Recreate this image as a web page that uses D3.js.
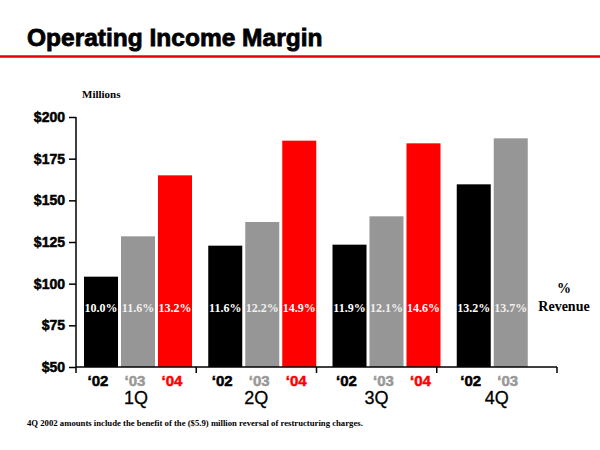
<!DOCTYPE html>
<html>
<head>
<meta charset="utf-8">
<script src="https://cdn.jsdelivr.net/npm/d3@7"></script>
<style>
  body { margin: 0; background: #fff; }
  svg { display: block; }
</style>
</head>
<body>
<div id="chart"></div>
<script>
const quarters = ['1Q', '2Q', '3Q', '4Q'];
const years = ['02', '03', '04'];
// operating income in millions
const income02 = [104.2, 122.8, 123.4, 159.6];
const income03 = [128.4, 137.0, 140.4, 187.2];
const income04 = [165.0, 185.8, 184.2, null];
// % revenue labels
const margin02 = ['10.0%', '11.6%', '11.9%', '13.2%'];
const margin03 = ['11.6%', '12.2%', '12.1%', '13.7%'];
const margin04 = ['13.2%', '14.9%', '14.6%', null];
const yTicks = [50, 75, 100, 125, 150, 175, 200];

const colors = { '02': '#000000', '03': '#969696', '04': '#ff0000' };
const labelColors = { '02': '#000000', '03': '#999999', '04': '#ff0000' };

const rows = [];
quarters.forEach((q, i) => {
    [['02', income02, margin02], ['03', income03, margin03], ['04', income04, margin04]].forEach(([yr, vals, pct]) => {
        if (vals[i] != null) rows.push({ quarter: q, year: yr, value: vals[i], pct: pct[i] });
    });
});

const sans = 'Liberation Sans, Arial, sans-serif';
const serif = 'Liberation Serif, Times New Roman, serif';

const width = 600, height = 450;
const svg = d3.select('#chart').append('svg')
    .attr('width', width)
    .attr('height', height);

// title + red rule
svg.append('text')
    .attr('x', 27)
    .attr('y', 46)
    .attr('font-family', sans)
    .attr('font-weight', 'bold')
    .attr('font-size', '24.5px')
    .attr('stroke', '#000')
    .attr('stroke-width', 0.8)
    .text('Operating Income Margin');

svg.append('line')
    .attr('x1', 0).attr('x2', width)
    .attr('y1', 56.5).attr('y2', 56.5)
    .attr('stroke', '#e8000b')
    .attr('stroke-width', 2.5);

const y = d3.scaleLinear().domain([50, 200]).range([367, 117]);
const xAxisScale = d3.scaleBand().domain(quarters).range([76, 557]);
const xBar = d3.scaleBand().domain(quarters).range([84, 581]);
const x1 = d3.scaleBand().domain(years).range([0, 108]).paddingInner(0.081);

// y axis
const yAxis = svg.append('g')
    .attr('transform', 'translate(76,0)')
    .call(d3.axisLeft(y).tickValues(yTicks).tickSize(7).tickPadding(4).tickFormat(d => '$' + d));
yAxis.select('.domain').attr('stroke', '#000').attr('stroke-width', 1.5).attr('d', 'M0,' + y(200) + 'V' + y(50));
yAxis.selectAll('.tick line').attr('stroke', '#000').attr('stroke-width', 1.5);
yAxis.selectAll('.tick text')
    .attr('font-family', sans)
    .attr('font-weight', 'bold')
    .attr('font-size', '14px')
    .attr('stroke', '#000')
    .attr('stroke-width', 0.5)
    .attr('fill', '#000');

svg.append('text')
    .attr('x', 82)
    .attr('y', 98)
    .attr('font-family', serif)
    .attr('font-weight', 'bold')
    .attr('font-size', '11px')
    .text('Millions');

// bars
const bars = svg.append('g');
bars.selectAll('rect')
    .data(rows)
    .enter().append('rect')
    .attr('x', d => xBar(d.quarter) + x1(d.year))
    .attr('y', d => y(d.value))
    .attr('width', x1.bandwidth())
    .attr('height', d => y(50) - y(d.value))
    .attr('fill', d => colors[d.year]);

bars.selectAll('text.pct')
    .data(rows)
    .enter().append('text')
    .attr('class', 'pct')
    .attr('x', d => xBar(d.quarter) + x1(d.year) + x1.bandwidth() / 2)
    .attr('y', 312)
    .attr('text-anchor', 'middle')
    .attr('font-family', serif)
    .attr('font-weight', 'bold')
    .attr('font-size', '12px')
    .attr('fill', d => d.year === '03' ? '#f0f0f0' : '#ffffff')
    .text(d => d.pct);

// x axis
const xAxis = svg.append('g')
    .attr('transform', 'translate(0,367)');
xAxis.append('line')
    .attr('x1', xAxisScale.range()[0]).attr('x2', xAxisScale.range()[1])
    .attr('stroke', '#000').attr('stroke-width', 1.5);
xAxis.selectAll('line.sep')
    .data(quarters.concat(['end']))
    .enter().append('line')
    .attr('class', 'sep')
    .attr('x1', (d, i) => i < quarters.length ? xAxisScale(d) : xAxisScale.range()[1])
    .attr('x2', (d, i) => i < quarters.length ? xAxisScale(d) : xAxisScale.range()[1])
    .attr('y1', 0).attr('y2', 6)
    .attr('stroke', '#000').attr('stroke-width', 1.5);

svg.append('g').selectAll('text')
    .data(rows)
    .enter().append('text')
    .attr('x', d => xBar(d.quarter) + x1(d.year) + x1.bandwidth() / 2 - 3)
    .attr('y', 386)
    .attr('text-anchor', 'middle')
    .attr('font-family', sans)
    .attr('font-weight', 'bold')
    .attr('font-size', '15px')
    .attr('stroke', d => labelColors[d.year])
    .attr('stroke-width', 0.5)
    .attr('fill', d => labelColors[d.year])
    .text(d => '\u2018' + d.year);

svg.append('g').selectAll('text')
    .data(quarters)
    .enter().append('text')
    .attr('x', d => xAxisScale(d) + xAxisScale.bandwidth() / 2)
    .attr('y', 404)
    .attr('text-anchor', 'middle')
    .attr('font-family', sans)
    .attr('font-size', '18px')
    .attr('stroke', '#000')
    .attr('stroke-width', 0.3)
    .attr('fill', '#000')
    .text(d => d);

// % revenue note
const rev = svg.append('text')
    .attr('text-anchor', 'middle')
    .attr('font-family', serif)
    .attr('font-weight', 'bold')
    .attr('font-size', '14px');
rev.append('tspan').attr('x', 564).attr('y', 293).text('%');
rev.append('tspan').attr('x', 564).attr('y', 311).text('Revenue');

svg.append('text')
    .attr('x', 27)
    .attr('y', 426)
    .attr('font-family', serif)
    .attr('font-weight', 'bold')
    .attr('font-size', '8.7px')
    .text('4Q 2002 amounts include the benefit of the ($5.9) million reversal of restructuring charges.');
</script>
</body>
</html>
